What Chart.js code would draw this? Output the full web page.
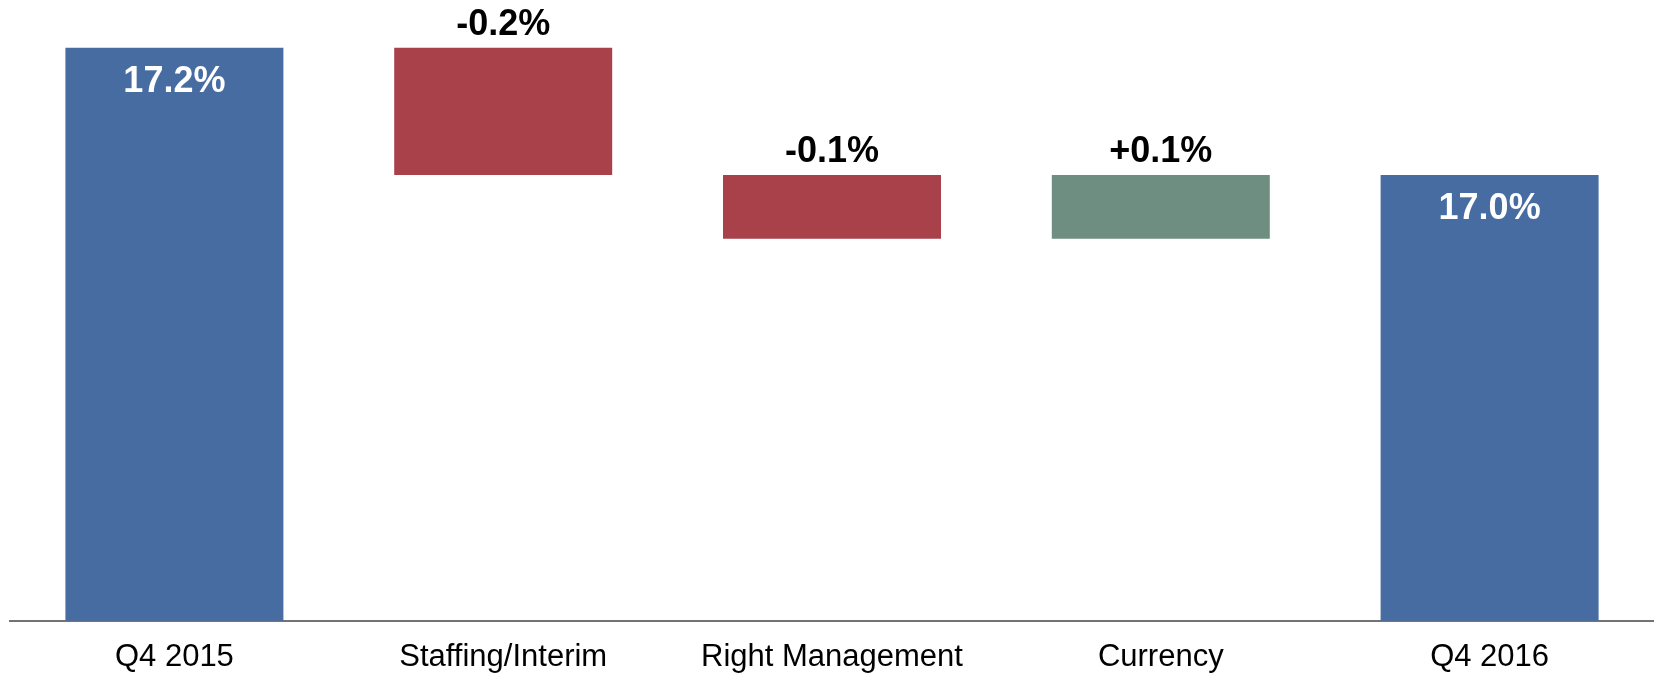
<!DOCTYPE html>
<html>
<head>
<meta charset="utf-8">
<script src="https://cdn.jsdelivr.net/npm/chart.js@4/dist/chart.umd.min.js"></script>
<style>
  body { margin: 0; background: #fff; }
  #wrap { width: 1654px; height: 676px; }
</style>
</head>
<body>
<div id="wrap"><canvas id="myChart" width="1654" height="676"></canvas></div>
<script>
// waterfall steps, in %
const categories = ['Q4 2015', 'Staffing/Interim', 'Right Management', 'Currency', 'Q4 2016'];
const stepValues = [17.2, -0.2, -0.1, 0.1, 17.0];
const isTotal = [true, false, false, false, true];
const barColors = ['#476CA2', '#A9414B', '#A9414B', '#6E8E81', '#476CA2'];

const axisMin = 16.3;
const axisMax = 17.275;

// build floating bars from the steps
let running = 0;
let barData = stepValues.map((v, i) => {
  if (isTotal[i]) {
    running = v;
    return v;
  }
  let from = running;
  running = +(running + v).toFixed(2);
  return [from, running];
});

let labelText = stepValues.map((v, i) => {
  if (isTotal[i]) return v.toFixed(1) + '%';
  return (v > 0 ? '+' : '') + v.toFixed(1) + '%';
});

let barLabels = {
  id: 'barLabels',
  afterDatasetsDraw(chart) {
    let ctx = chart.ctx;
    let meta = chart.getDatasetMeta(0);
    ctx.save();
    ctx.font = 'bold 36px "Liberation Sans", Arial, sans-serif';
    ctx.textAlign = 'center';
    ctx.textBaseline = 'middle';
    meta.data.forEach((bar, i) => {
      let top = Math.min(bar.y, bar.base);
      if (isTotal[i]) {
        ctx.fillStyle = '#ffffff';
        ctx.fillText(labelText[i], bar.x, top + 34);
      } else {
        ctx.fillStyle = '#000000';
        ctx.fillText(labelText[i], bar.x, top - 23);
      }
    });
    ctx.restore();
  }
};

let ctx = document.getElementById('myChart').getContext('2d');
let chart = new Chart(ctx, {
  type: 'bar',
  data: {
    labels: categories,
    datasets: [{
      data: barData,
      backgroundColor: barColors,
      borderWidth: 0,
      categoryPercentage: 1,
      barPercentage: 0.663
    }]
  },
  options: {
    responsive: false,
    animation: false,
    layout: { padding: { left: 10, right: 0, top: 0, bottom: -18 } },
    plugins: {
      legend: { display: false },
      tooltip: { enabled: false }
    },
    scales: {
      x: {
        z: 1,
        grid: { display: false, drawTicks: false },
        border: { display: true, color: 'rgba(90,90,90,0.85)', width: 2 },
        ticks: {
          color: '#000',
          padding: 18,
          font: { family: '"Liberation Sans", Arial, sans-serif', size: 31 }
        }
      },
      y: {
        display: false,
        min: axisMin,
        max: axisMax
      }
    }
  },
  plugins: [barLabels]
});
</script>
</body>
</html>
